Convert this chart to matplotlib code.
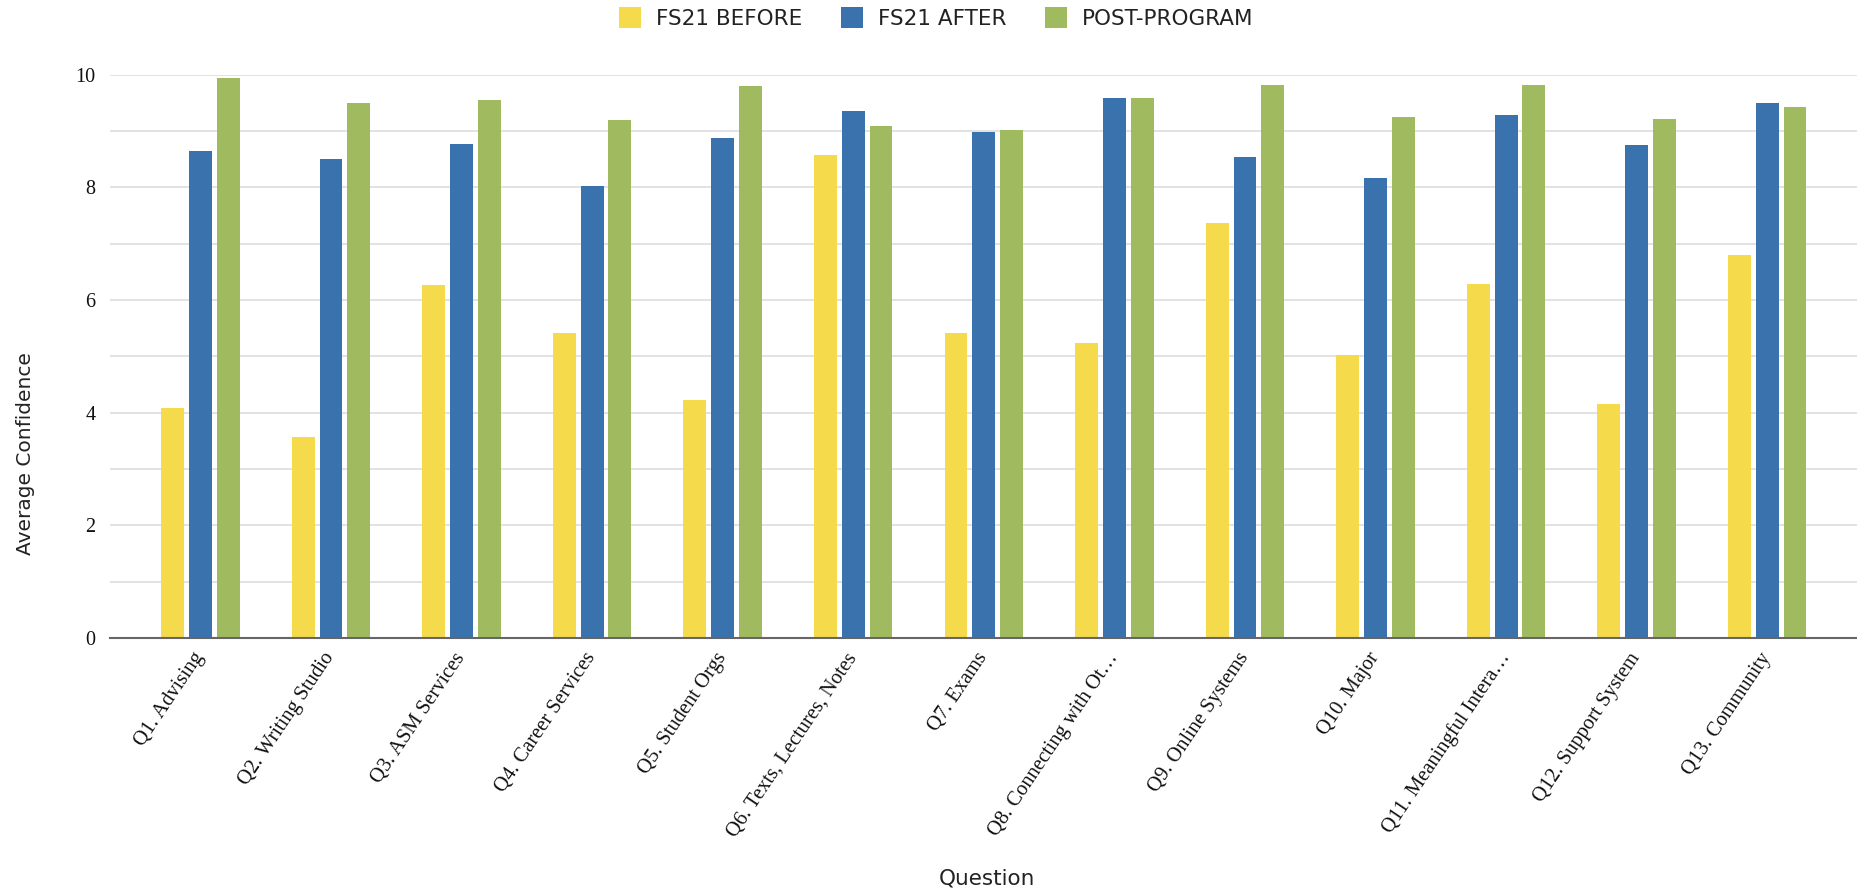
import matplotlib
matplotlib.use('Agg')
import matplotlib.pyplot as plt
import numpy as np

questions = ['Q1. Advising', 'Q2. Writing Studio', 'Q3. ASM Services', 'Q4. Career Services',
             'Q5. Student Orgs', 'Q6. Texts, Lectures, Notes', 'Q7. Exams',
             'Q8. Connecting with Ot\u2026', 'Q9. Online Systems', 'Q10. Major',
             'Q11. Meaningful Intera\u2026', 'Q12. Support System', 'Q13. Community']
before = [4.08, 3.57, 6.26, 5.41, 4.22, 8.57, 5.42, 5.24, 7.37, 5.03, 6.29, 4.16, 6.79]
after = [8.65, 8.50, 8.77, 8.02, 8.88, 9.35, 8.99, 9.59, 8.54, 8.17, 9.28, 8.75, 9.50]
post = [9.94, 9.50, 9.55, 9.20, 9.80, 9.08, 9.02, 9.59, 9.82, 9.25, 9.82, 9.22, 9.43]

series = [('FS21 BEFORE', before, '#F5DA4B'),
          ('FS21 AFTER', after, '#3A72AE'),
          ('POST-PROGRAM', post, '#A0BA60')]

fig = plt.figure(figsize=(18.58, 8.94), dpi=100)
ax = fig.add_axes([0.059, 0.2865, 0.941, 0.63])

x = np.arange(len(questions))
w = 0.175
step = 0.213
for i, (name, vals, col) in enumerate(series):
    ax.bar(x + (i - 1) * step, vals, width=w, color=col, label=name, zorder=3)

ax.set_xlim(-0.695, len(questions) - 1 + 0.695)
ax.set_ylim(0, 10)
ax.set_yticks(np.arange(0, 11, 2))
ax.set_yticks(np.arange(0, 11, 1), minor=True)
ax.grid(axis='y', which='both', color='#DDDDDD', linewidth=1.2, zorder=0)
ax.tick_params(axis='y', which='both', length=0, pad=10)
ax.tick_params(axis='x', length=0, pad=12)
for s in ['top', 'right', 'left']:
    ax.spines[s].set_visible(False)
ax.spines['bottom'].set_color('#666666')
ax.spines['bottom'].set_linewidth(1.5)
ax.spines['bottom'].set_zorder(4)

ax.set_xticks(x)
ax.set_xticklabels(questions, rotation=56, ha='right', va='center', rotation_mode='anchor',
                   family='Liberation Serif', fontsize=14.8, color='#111111')
for lbl in ax.get_yticklabels():
    lbl.set_family('Liberation Serif')
    lbl.set_fontsize(14.5)
    lbl.set_color('#111111')

fig.text(0.0135, 0.493, 'Average Confidence', rotation=90, ha='center', va='center',
         fontsize=14.5, family='DejaVu Sans', color='#222222')
fig.text(0.531, 0.017, 'Question', ha='center', va='center',
         fontsize=15.5, family='DejaVu Sans', color='#222222')

leg = fig.legend(loc='center', bbox_to_anchor=(0.504, 0.98), ncol=3, frameon=False,
                 fontsize=15.5, handlelength=1.02, handleheight=1.1, handletextpad=0.7,
                 columnspacing=1.8, borderpad=0, labelcolor='#222222')

fig.savefig('out.png', dpi=100, facecolor='white')
